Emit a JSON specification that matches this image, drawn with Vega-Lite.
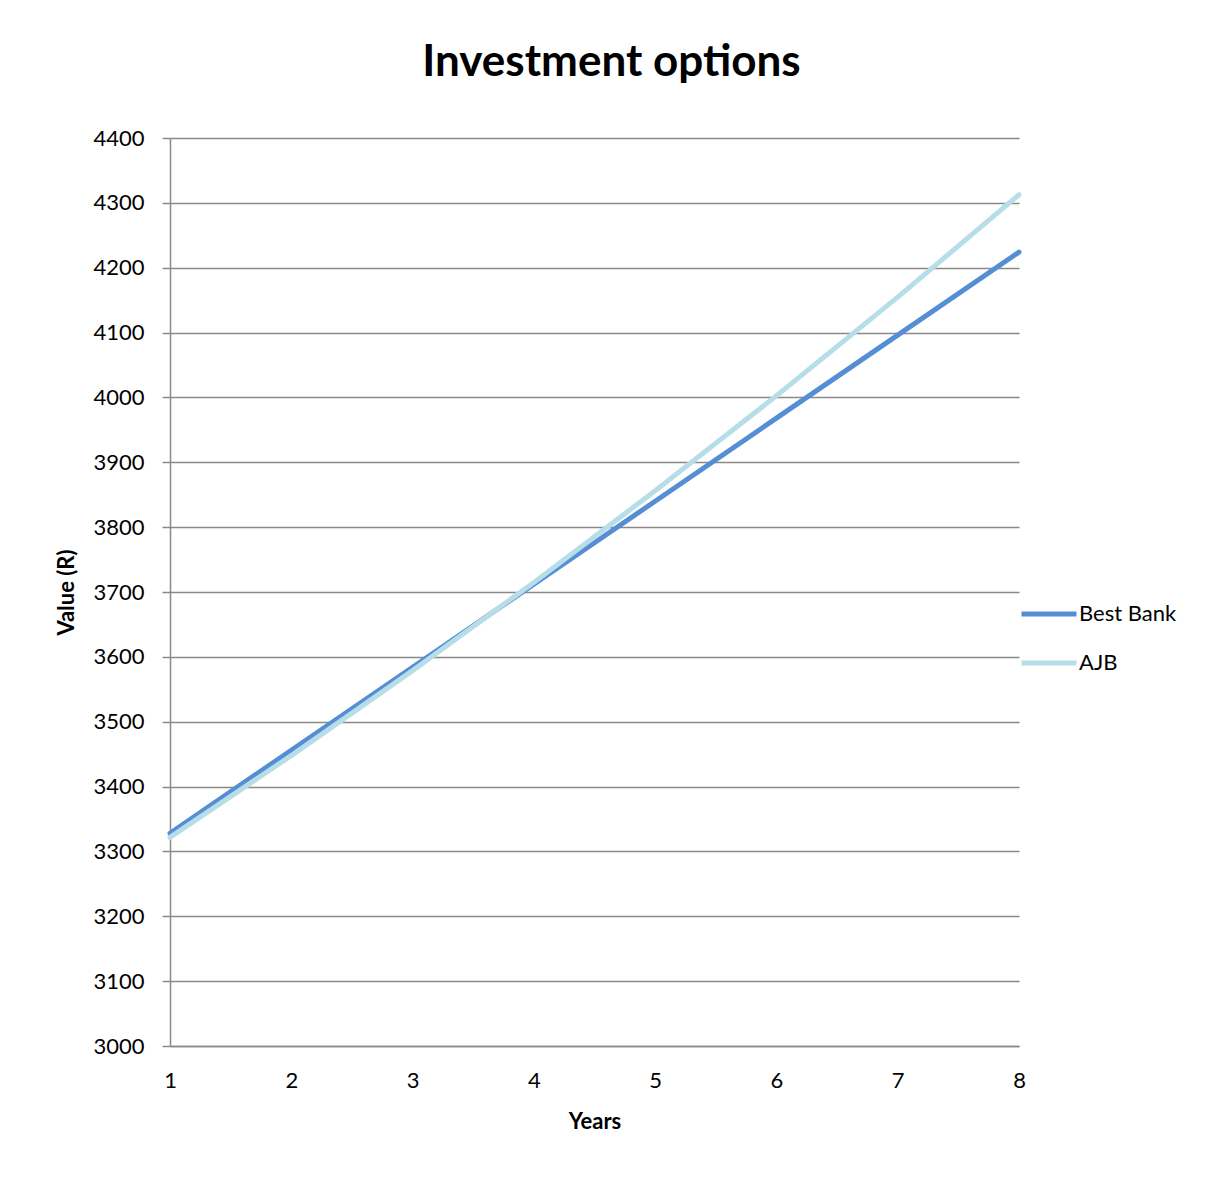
{
  "$schema": "https://vega.github.io/schema/vega-lite/v6.json",
  "autosize": {"type": "none"},
  "padding": {"left": 170, "top": 138, "right": 193, "bottom": 131},
  "width": 849,
  "height": 908,
  "background": "white",
  "title": {
    "text": "Investment options",
    "fontSize": 44,
    "fontWeight": "bold",
    "font": "Lato",
    "color": "black",
    "anchor": "middle",
    "baseline": "alphabetic",
    "offset": 7,
    "dx": 17
  },
  "data": {
    "values": [
      {"Years": 1, "Bank": "Best Bank", "Value": 3328},
      {"Years": 2, "Bank": "Best Bank", "Value": 3456},
      {"Years": 3, "Bank": "Best Bank", "Value": 3584},
      {"Years": 4, "Bank": "Best Bank", "Value": 3712},
      {"Years": 5, "Bank": "Best Bank", "Value": 3840},
      {"Years": 6, "Bank": "Best Bank", "Value": 3968},
      {"Years": 7, "Bank": "Best Bank", "Value": 4096},
      {"Years": 8, "Bank": "Best Bank", "Value": 4224},
      {"Years": 1, "Bank": "AJB", "Value": 3321.6},
      {"Years": 2, "Bank": "AJB", "Value": 3447.8},
      {"Years": 3, "Bank": "AJB", "Value": 3578.8},
      {"Years": 4, "Bank": "AJB", "Value": 3714.8},
      {"Years": 5, "Bank": "AJB", "Value": 3856.0},
      {"Years": 6, "Bank": "AJB", "Value": 4002.5},
      {"Years": 7, "Bank": "AJB", "Value": 4154.6},
      {"Years": 8, "Bank": "AJB", "Value": 4312.5}
    ]
  },
  "mark": {"type": "line", "strokeWidth": 5, "strokeCap": "round", "strokeJoin": "round"},
  "encoding": {
    "x": {
      "field": "Years",
      "type": "quantitative",
      "title": "Years",
      "scale": {"domain": [1, 8], "nice": false},
      "axis": {
        "values": [1, 2, 3, 4, 5, 6, 7, 8],
        "grid": false,
        "ticks": false,
        "labelFlush": false,
        "labelPadding": 24,
        "titlePadding": 20,
        "format": "d"
      }
    },
    "y": {
      "field": "Value",
      "type": "quantitative",
      "title": "Value (R)",
      "scale": {"domain": [3000, 4400], "nice": false, "zero": false},
      "axis": {
        "values": [3000, 3100, 3200, 3300, 3400, 3500, 3600, 3700, 3800, 3900, 4000, 4100, 4200, 4300, 4400],
        "grid": true,
        "tickSize": 8,
        "labelPadding": 18,
        "titlePadding": 14,
        "format": "d"
      }
    },
    "color": {
      "field": "Bank",
      "type": "nominal",
      "sort": ["Best Bank", "AJB"],
      "scale": {"domain": ["Best Bank", "AJB"], "range": ["#558ED5", "#B7DEE8"]},
      "legend": {
        "title": null,
        "orient": "none",
        "legendX": 849,
        "legendY": 446,
        "symbolType": "stroke",
        "symbolSize": 3025,
        "symbolStrokeWidth": 5,
        "labelFontSize": 22,
        "labelFont": "Lato",
        "labelColor": "black",
        "labelOffset": 0,
        "rowPadding": 8
      }
    }
  },
  "config": {
    "view": {"stroke": null},
    "axis": {
      "domainColor": "#898989",
      "domainWidth": 1.5,
      "gridColor": "#898989",
      "gridWidth": 1.5,
      "tickColor": "#898989",
      "tickWidth": 1.5,
      "labelFont": "Lato",
      "labelFontSize": 22,
      "labelColor": "black",
      "titleFont": "Lato",
      "titleFontSize": 22,
      "titleFontWeight": "bold",
      "titleColor": "black"
    }
  }
}
